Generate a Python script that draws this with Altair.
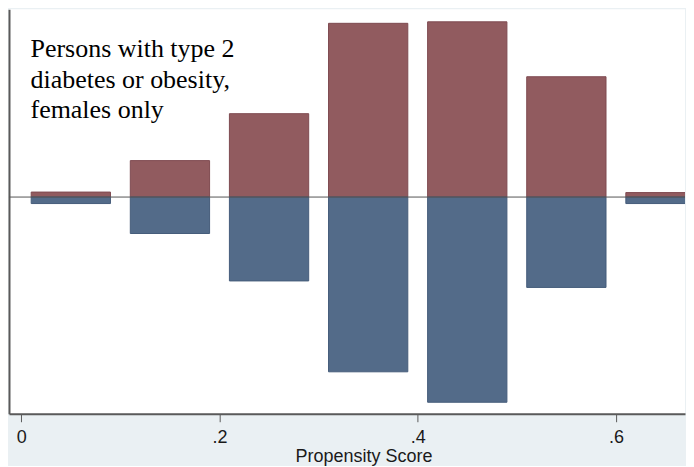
import altair as alt
import pandas as pd

# Propensity-score bins (left/right edges of each drawn bar)
bin_left = [0.01, 0.11, 0.21, 0.31, 0.41, 0.51, 0.61]
bin_right = [0.09, 0.19, 0.29, 0.39, 0.49, 0.59, 0.69]
# Densities: upper (red) group and lower (blue) group, mirrored
upper_density = [0.10, 0.73, 1.67, 3.48, 3.51, 2.41, 0.09]
lower_density = [0.13, 0.73, 1.68, 3.50, 4.11, 1.81, 0.13]
groups = ["Treated", "Untreated"]
tick_values = [0, 0.2, 0.4, 0.6]
note_lines = ["Persons with type 2", "diabetes or obesity,", "females only"]

rows = []
for l, r, u, d in zip(bin_left, bin_right, upper_density, lower_density):
    rows.append({"x": l, "x2": r, "y": u, "y2": 0, "group": groups[0]})
    rows.append({"x": l, "x2": r, "y": -d, "y2": 0, "group": groups[1]})
df = pd.DataFrame(rows)

xscale = alt.Scale(domain=[-0.0124, 0.6697], nice=False, zero=False)
yscale = alt.Scale(domain=[-4.34, 3.76], nice=False, zero=False)

bars = alt.Chart(df).mark_bar(clip=True, strokeWidth=1).encode(
    x=alt.X("x:Q", scale=xscale, axis=alt.Axis(
        values=tick_values,
        labelExpr="datum.value == 0 ? '0' : replace(format(datum.value, '.1f'), '0.', '.')",
        title="Propensity Score",
        grid=False,
        domainColor="#5a5a5a", domainWidth=2,
        tickColor="#5a5a5a", tickWidth=1, tickSize=8,
        labelFont="Liberation Sans", labelFontSize=18, labelColor="#1a1a1a",
        labelBaseline="alphabetic", labelPadding=21,
        titleFont="Liberation Sans", titleFontSize=18, titleColor="#1a1a1a",
        titleFontWeight="normal", titleBaseline="alphabetic",
        titleX=355, titleY=48, titleAlign="center",
    )),
    x2="x2:Q",
    y=alt.Y("y:Q", scale=yscale, axis=alt.Axis(
        labels=False, ticks=False, grid=False, title=None,
        domainColor="#5a5a5a", domainWidth=2,
    )),
    y2="y2:Q",
    color=alt.Color("group:N", scale=alt.Scale(domain=groups, range=["#915B5F", "#536B89"]), legend=None),
    stroke=alt.Stroke("group:N", scale=alt.Scale(domain=groups, range=["#7E4A50", "#455C7A"]), legend=None),
)

zero = alt.Chart(pd.DataFrame({"y": [0]})).mark_rule(color="#555555", strokeWidth=1).encode(
    y=alt.Y("y:Q", scale=yscale)
)

note = alt.Chart(pd.DataFrame({"x": [0.0093], "y": [2.8], "t": ["\n".join(note_lines)]})).mark_text(
    align="left", baseline="alphabetic", font="Liberation Serif", fontSize=26,
    lineBreak="\n", lineHeight=30.5, color="#000000",
).encode(
    x=alt.X("x:Q", scale=xscale),
    y=alt.Y("y:Q", scale=yscale),
    text="t:N",
)

chart = alt.layer(bars, zero, note).properties(
    width=677, height=405,
    padding={"left": 0, "top": 1, "right": 0, "bottom": 0},
    background="#EAF0F3",
).configure_view(fill="white", stroke=None)

chart.save("out.html", embed_options={"renderer": "svg", "actions": False})
